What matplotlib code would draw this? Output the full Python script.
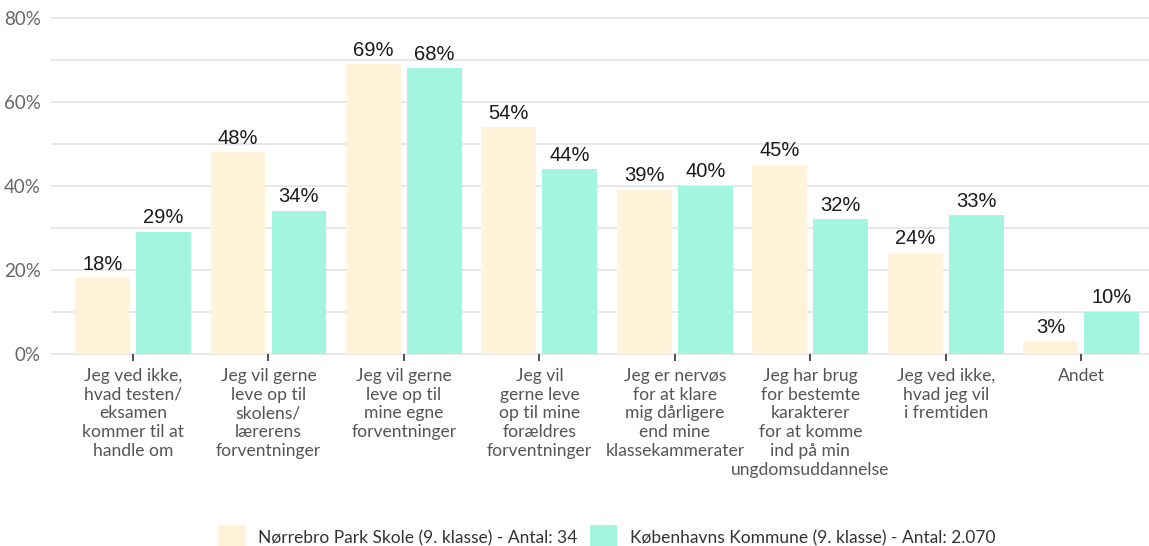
import matplotlib
matplotlib.use('Agg')
import matplotlib.pyplot as plt
import numpy as np
from matplotlib.patches import Patch

categories = [
    'Jeg ved ikke,\nhvad testen/\neksamen\nkommer til at\nhandle om',
    'Jeg vil gerne\nleve op til\nskolens/\nlærerens\nforventninger',
    'Jeg vil gerne\nleve op til\nmine egne\nforventninger',
    'Jeg vil\ngerne leve\nop til mine\nforældres\nforventninger',
    'Jeg er nervøs\nfor at klare\nmig dårligere\nend mine\nklassekammerater',
    'Jeg har brug\nfor bestemte\nkarakterer\nfor at komme\nind på min\nungdomsuddannelse',
    'Jeg ved ikke,\nhvad jeg vil\ni fremtiden',
    'Andet',
]
skole = [18, 48, 69, 54, 39, 45, 24, 3]
kommune = [29, 34, 68, 44, 40, 32, 33, 10]
series_names = ['Nørrebro Park Skole (9. klasse) - Antal: 34',
                'Københavns Kommune (9. klasse) - Antal: 2.070']
colors = ['#FFF4DA', '#A2F5DF']

fig = plt.figure(figsize=(11.49, 5.46), dpi=100)
ax = fig.add_axes([0.045, 0.352, 0.955, 0.615])

x = np.arange(len(categories))
w = 0.405
off = 0.225
b1 = ax.bar(x - off, skole, w, color=colors[0], zorder=2)
b2 = ax.bar(x + off, kommune, w, color=colors[1], zorder=2)

for bars in (b1, b2):
    for b in bars:
        ax.text(b.get_x() + b.get_width() / 2, b.get_height() + 1.1,
                '%d%%' % round(b.get_height()), ha='center', va='bottom',
                fontsize=14.5, color='#1a1a1a', family='Liberation Sans')

ax.set_ylim(0, 80)
ax.set_xlim(-0.6, 7.5)
ax.set_yticks(np.arange(0, 81, 20))
ax.set_yticklabels(['%d%%' % v for v in range(0, 81, 20)])
# light gridlines every 10%
for v in range(0, 81, 10):
    ax.axhline(v, color='#e6e6e6', linewidth=1.3, zorder=0, clip_on=False)
ax.tick_params(axis='y', which='both', length=0, labelsize=13.5, labelcolor='#666666', pad=8)
ax.set_xticks(x)
ax.set_xticklabels(categories, fontsize=12.6, color='#555555', linespacing=1.22)
ax.tick_params(axis='x', length=5, width=1.2, color='#333333', pad=5)
for s in ax.spines.values():
    s.set_visible(False)
for lab in ax.get_xticklabels() + ax.get_yticklabels():
    lab.set_family('Lato')

handles = [Patch(facecolor=c, edgecolor='none') for c in colors]
fig.legend(handles, series_names, loc='lower center', bbox_to_anchor=(0.528, -0.035),
           ncol=2, frameon=False, handlelength=1.6, handleheight=1.75,
           handletextpad=0.7, columnspacing=0.7,
           prop={'family': 'Lato', 'size': 12.5}, labelcolor='#333333')

fig.savefig('out.png', dpi=100)
